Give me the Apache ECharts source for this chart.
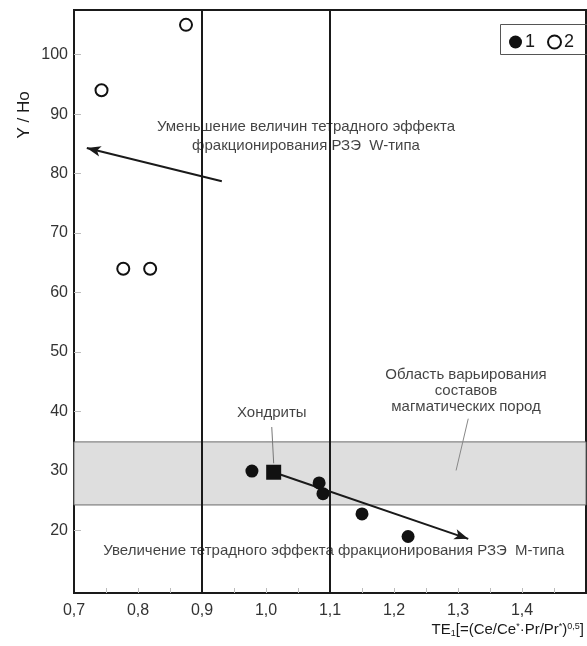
<!DOCTYPE html>
<html>
<head>
<meta charset="utf-8">
<script src="https://cdn.jsdelivr.net/npm/echarts@6/dist/echarts.min.js"></script>
<style>
  html, body { margin: 0; padding: 0; background: #fff; }
  #chart { width: 587px; height: 646px; }
</style>
</head>
<body>
<div id="chart"></div>
<script>
const FONT = '"Liberation Sans", Arial, sans-serif';

// Axis extents and tick positions
const xRange = [0.7, 1.5];
const yRange = [9.5, 107.5];
const xTickLabels = [0.7, 0.8, 0.9, 1.0, 1.1, 1.2, 1.3, 1.4];
const xMinorTicks = [0.75, 0.8, 0.85, 0.9, 0.95, 1.0, 1.05, 1.1, 1.15, 1.2, 1.25, 1.3, 1.35, 1.4, 1.45];
const yTickLabels = [20, 30, 40, 50, 60, 70, 80, 90, 100];

// Samples: [TE1, Y/Ho]
const group1 = [[0.978, 30.0], [1.083, 28.0], [1.089, 26.2], [1.150, 22.8], [1.222, 19.0]];
const group2 = [[0.743, 94.0], [0.875, 105.0], [0.777, 64.0], [0.819, 64.0]];
const chondrite = [[1.012, 29.8]];

// Reference lines, magmatic rock field and trend arrows
const boundaries = [0.9, 1.1];
const magmaticBand = [24.3, 34.9];
const trendW = [[0.931, 78.7], [0.720, 84.3]];
const trendM = [[1.012, 29.8], [1.316, 18.6]];
const leaderChondrite = [[1.009, 37.4], [1.012, 31.3]];
const leaderBand = [[1.316, 38.8], [1.297, 30.1]];

// Annotations: [x, y, text, line height]
const notes = [
  [1.0625, 86.2, 'Уменьшение величин тетрадного эффекта\nфракционирования РЗЭ  W-типа', 19],
  [1.3125, 43.4, 'Область варьирования\nсоставов\nмагматических пород', 16],
  [1.009, 39.7, 'Хондриты', 16],
  [1.106, 16.6, 'Увеличение тетрадного эффекта фракционирования РЗЭ  М-типа', 16]
];

const fmt = v => Number(v).toFixed(1).replace('.', ',');
const ink = '#1a1a1a';

const chart = echarts.init(document.getElementById('chart'), null, { renderer: 'canvas' });

chart.setOption({
  animation: false,
  backgroundColor: '#fff',
  textStyle: { fontFamily: FONT },
  grid: {
    left: 74, top: 10, right: 1, bottom: 53,
    containLabel: false, outerBoundsMode: 'none',
    show: true, borderColor: ink, borderWidth: 2, backgroundColor: 'transparent'
  },
  legend: {
    data: ['1', '2'],
    left: 509, top: 33,
    orient: 'horizontal',
    padding: 0,
    itemGap: 12,
    itemWidth: 13, itemHeight: 13,
    textStyle: { fontFamily: FONT, fontSize: 18, color: ink, padding: [0, 0, 0, -2] },
    selectedMode: false
  },
  xAxis: {
    type: 'value',
    min: xRange[0], max: xRange[1],
    axisLine: { show: true, lineStyle: { color: ink, width: 2 } },
    splitLine: { show: false },
    axisTick: { show: true, inside: true, length: 5, customValues: xMinorTicks,
      lineStyle: { color: '#bdbdbd', width: 1 } },
    axisLabel: { customValues: xTickLabels, formatter: fmt, margin: 10,
      fontFamily: FONT, fontSize: 16, color: '#333' },
    name: 'TE{sub|1}[=(Ce/Ce{sup|*}·Pr/Pr{sup|*}){sup|0,5}]',
    nameLocation: 'end',
    nameGap: -2,
    nameTextStyle: {
      align: 'right', verticalAlign: 'top', padding: [29, 0, 0, 0],
      fontFamily: FONT, fontSize: 15, color: ink,
      rich: {
        sub: { fontFamily: FONT, fontSize: 9, color: ink, verticalAlign: 'bottom', padding: [7, 0, 0, 0] },
        sup: { fontFamily: FONT, fontSize: 9, color: ink, verticalAlign: 'top', padding: [0, 0, 7, 0] }
      }
    }
  },
  yAxis: {
    type: 'value',
    min: yRange[0], max: yRange[1],
    axisLine: { show: true, lineStyle: { color: ink, width: 2 } },
    splitLine: { show: false },
    axisTick: { show: true, inside: true, length: 7, customValues: yTickLabels,
      lineStyle: { color: '#bdbdbd', width: 1 } },
    axisLabel: { customValues: yTickLabels, margin: 6,
      fontFamily: FONT, fontSize: 16, color: '#333' }
  },
  graphic: [
    {
      type: 'text', x: 24, y: 115, rotation: Math.PI / 2,
      style: { text: 'Y / Ho', align: 'center', verticalAlign: 'middle',
        font: '17px ' + FONT, fill: ink }
    },
    {
      // legend frame
      type: 'rect', shape: { x: 500.5, y: 24.5, width: 100, height: 30 },
      style: { fill: 'none', stroke: '#555', lineWidth: 1 }, silent: true
    }
  ],
  series: [
    {
      // field of magmatic rocks, boundary lines and trend arrows
      name: 'frame', type: 'scatter', data: [], silent: true, z: 1,
      markArea: {
        silent: true,
        itemStyle: { color: '#dedede', borderColor: '#6a6a6a', borderWidth: 1 },
        data: [[{ yAxis: magmaticBand[0] }, { yAxis: magmaticBand[1] }]]
      },
      markLine: {
        silent: true, symbol: 'none', label: { show: false }, animation: false,
        data: [
          ...boundaries.map(x => ({ xAxis: x, lineStyle: { color: ink, width: 2, type: 'solid' } })),
          [
            { coord: leaderChondrite[0], symbol: 'none', lineStyle: { color: '#777', width: 1, type: 'solid' } },
            { coord: leaderChondrite[1], symbol: 'none' }
          ],
          [
            { coord: leaderBand[0], symbol: 'none', lineStyle: { color: '#888', width: 1, type: 'solid' } },
            { coord: leaderBand[1], symbol: 'none' }
          ],
          [
            { coord: trendW[0], symbol: 'none', lineStyle: { color: ink, width: 2, type: 'solid' } },
            { coord: trendW[1], symbol: 'arrow', symbolSize: [8, 14] }
          ],
          [
            { coord: trendM[0], symbol: 'none', lineStyle: { color: ink, width: 2, type: 'solid' } },
            { coord: trendM[1], symbol: 'arrow', symbolSize: [8, 14] }
          ]
        ]
      }
    },
    {
      name: 'notes', type: 'scatter', silent: true, z: 3,
      symbolSize: 0,
      data: notes.map(n => ({ value: [n[0], n[1]], label: { formatter: n[2], lineHeight: n[3] } })),
      label: {
        show: true, position: 'inside', align: 'center', verticalAlign: 'middle',
        fontFamily: FONT, fontSize: 15, color: '#111'
      }
    },
    {
      name: '1', type: 'scatter', z: 5, symbol: 'circle', symbolSize: 13,
      itemStyle: { color: '#111', opacity: 1 },
      data: group1
    },
    {
      name: '2', type: 'scatter', z: 5, symbol: 'circle', symbolSize: 12,
      itemStyle: { color: '#fff', borderColor: '#111', borderWidth: 2, opacity: 1 },
      data: group2
    },
    {
      name: 'chondrite', type: 'scatter', z: 6, symbol: 'rect', symbolSize: 15,
      itemStyle: { color: '#111', opacity: 1 },
      data: chondrite
    }
  ]
});
</script>
</body>
</html>
